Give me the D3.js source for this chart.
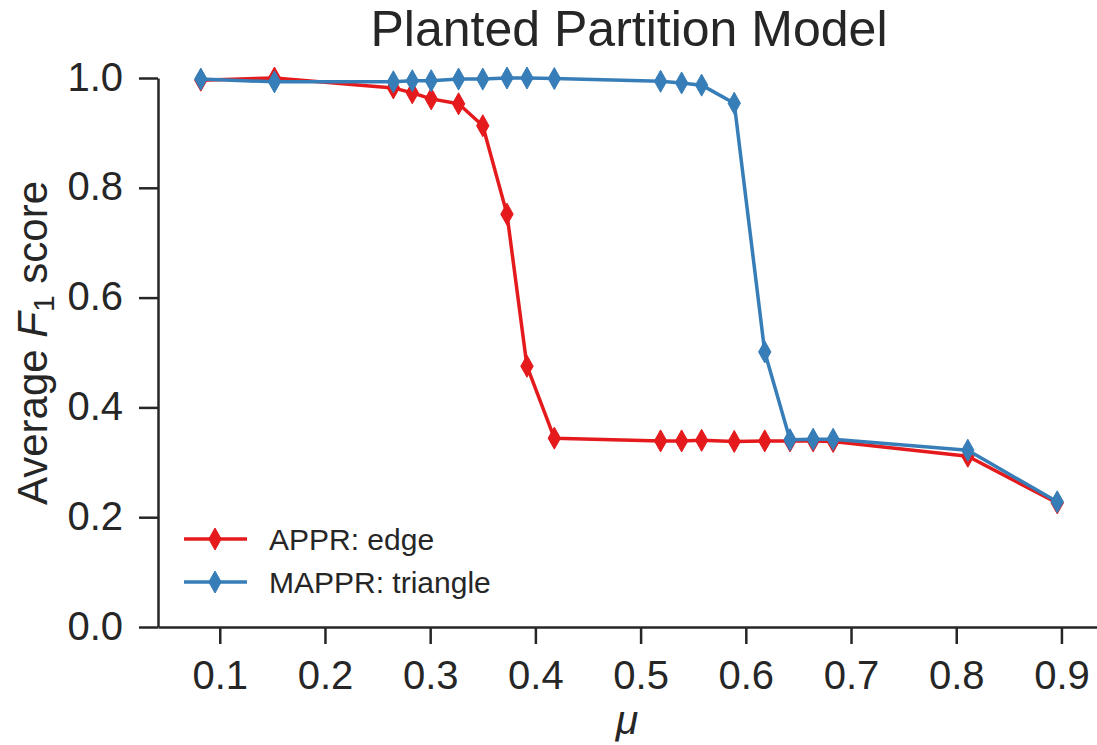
<!DOCTYPE html>
<html>
<head>
<meta charset="utf-8">
<script src="https://cdn.jsdelivr.net/npm/d3@7"></script>
<style>
html,body{margin:0;padding:0;background:#fff;}
svg{display:block;font-family:"Liberation Sans",Arial,sans-serif;}
</style>
</head>
<body>
<svg id="chart" width="1097" height="745"></svg>
<script>
const muValues = [0.082, 0.152, 0.265, 0.283, 0.301, 0.327, 0.350, 0.373, 0.392, 0.418,
                  0.519, 0.539, 0.558, 0.589, 0.618, 0.642, 0.664, 0.683, 0.811, 0.896];
const apprEdge = [0.996, 1.000, 0.982, 0.973, 0.962, 0.953, 0.913, 0.752, 0.475, 0.344,
                  0.339, 0.339, 0.340, 0.338, 0.339, 0.339, 0.339, 0.338, 0.311, 0.226];
const mapprTriangle = [0.998, 0.993, 0.993, 0.995, 0.995, 0.998, 0.998, 1.000, 1.000, 0.999,
                       0.994, 0.991, 0.987, 0.954, 0.501, 0.341, 0.342, 0.342, 0.322, 0.228];
const seriesNames = ["APPR: edge", "MAPPR: triangle"];
const seriesColors = ["#e41a1c", "#377eb8"];
const xTicks = [0.1, 0.2, 0.3, 0.4, 0.5, 0.6, 0.7, 0.8, 0.9];
const yTicks = [0.0, 0.2, 0.4, 0.6, 0.8, 1.0];

(function () {
const textColor = "#262626";
const svg = d3.select("#chart");
const mLeft = 158, mRight = 1099, mTop = 78, mBottom = 627;

const x = d3.scaleLinear().domain([0.0413, 0.9357]).range([mLeft, mRight]);
const y = d3.scaleLinear().domain([0, 1]).range([mBottom, mTop]);

// axes
const xAxis = svg.append("g").attr("transform", `translate(0,${mBottom})`)
  .call(d3.axisBottom(x).tickValues(xTicks).tickFormat(d3.format(".1f")).tickSize(17).tickPadding(17).tickSizeOuter(0));
const yAxis = svg.append("g").attr("transform", `translate(${mLeft},0)`)
  .call(d3.axisLeft(y).tickValues(yTicks).tickFormat(d3.format(".1f")).tickSize(19).tickPadding(16).tickSizeOuter(0));
[xAxis, yAxis].forEach(a => {
  a.select(".domain").attr("stroke", textColor).attr("stroke-width", 2.5);
  a.selectAll(".tick line").attr("stroke", textColor).attr("stroke-width", 2.5);
  a.selectAll(".tick text").attr("fill", textColor).style("font-size", "40px")
   .style("font-family", "'Liberation Sans', Arial, sans-serif");
});
xAxis.selectAll(".tick text").attr("dy", "0.71em");
yAxis.selectAll(".tick text").attr("dy", "0.3em");

// lines
const diamond = "M0,-11L6.2,0L0,11L-6.2,0Z";
const series = [apprEdge, mapprTriangle];
const line = d3.line().x((d, i) => x(muValues[i])).y(d => y(d));
series.forEach((vals, si) => {
  const g = svg.append("g");
  g.append("path").datum(vals).attr("d", line).attr("fill", "none")
    .attr("stroke", seriesColors[si]).attr("stroke-width", 3.5).attr("stroke-linejoin", "round");
  g.selectAll("path.m").data(vals).enter().append("path").attr("class", "m")
    .attr("d", diamond)
    .attr("transform", (d, i) => `translate(${x(muValues[i])},${y(d)})`)
    .attr("fill", seriesColors[si]).attr("stroke", seriesColors[si]).attr("stroke-width", 1);
});

// title
svg.append("text").attr("x", 629).attr("y", 46).attr("text-anchor", "middle")
  .attr("fill", textColor).style("font-size", "50px").text("Planted Partition Model");

// x label
svg.append("text").attr("x", 627).attr("y", 734).attr("text-anchor", "middle")
  .attr("fill", textColor).style("font-size", "41px").style("font-style", "italic").text("μ");

// y label
const yl = svg.append("text").attr("transform", "translate(47,343) rotate(-90)")
  .attr("text-anchor", "middle").attr("fill", textColor).style("font-size", "42px");
yl.append("tspan").text("Average ");
yl.append("tspan").style("font-style", "italic").text("F");
yl.append("tspan").attr("dy", 7).style("font-size", "30px").text("1");
yl.append("tspan").attr("dy", -7).text(" score");

// legend
const lg = svg.append("g");
seriesNames.forEach((name, i) => {
  const ly = 539 + i * 43;
  lg.append("line").attr("x1", 184).attr("x2", 247).attr("y1", ly).attr("y2", ly)
    .attr("stroke", seriesColors[i]).attr("stroke-width", 3.5);
  lg.append("path").attr("d", diamond).attr("transform", `translate(215,${ly})`)
    .attr("fill", seriesColors[i]).attr("stroke", seriesColors[i]).attr("stroke-width", 1);
  lg.append("text").attr("x", 269).attr("y", ly).attr("dy", "0.36em")
    .attr("fill", textColor).style("font-size", "30px").text(name);
});
})();
</script>
</body>
</html>
